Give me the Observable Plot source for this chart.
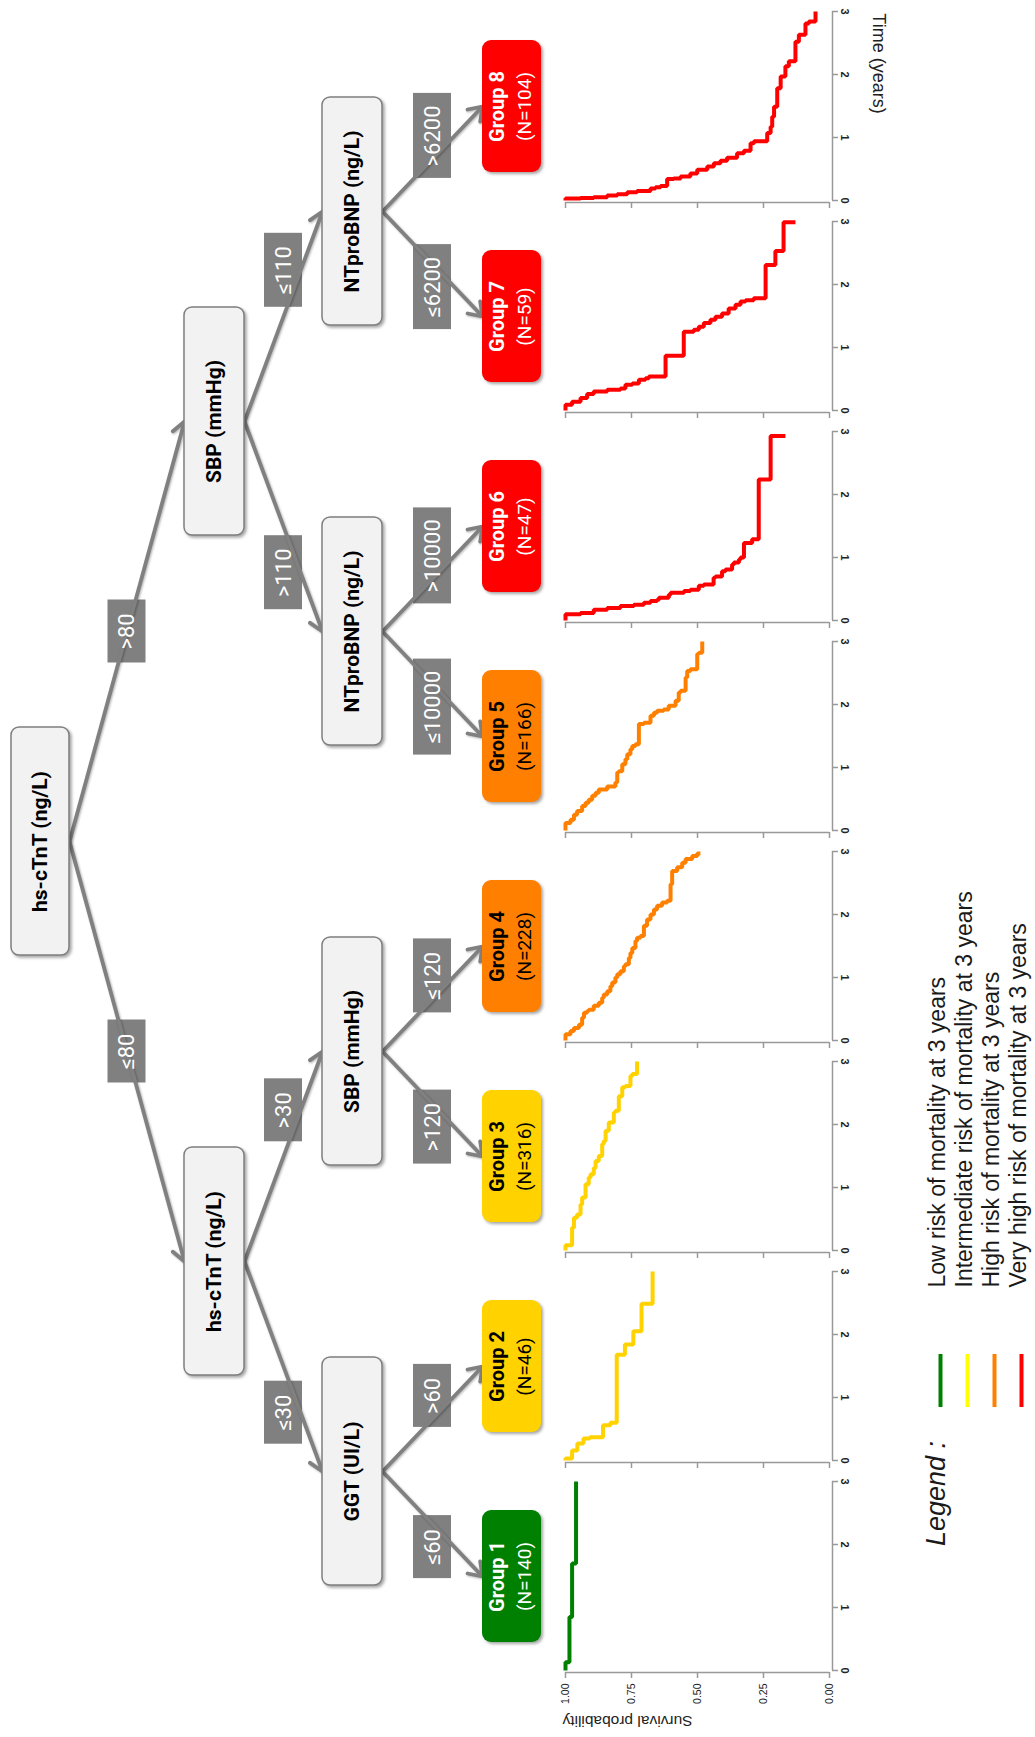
<!DOCTYPE html>
<html><head><meta charset="utf-8">
<script src="https://cdn.jsdelivr.net/npm/d3@7"></script>
<script src="https://cdn.jsdelivr.net/npm/@observablehq/plot@0.6"></script>
<style>
body{margin:0;background:#fff;}
#fig{position:relative;width:1035px;height:1737px;overflow:hidden;background:#fff;}
</style></head><body><div id="fig"></div>
<script>
// ---------- decision tree ----------
const nodeIds = ["A","B","C","D","E","F","G"];
const nodeLabels = ["hs-cTnT (ng/L)","hs-cTnT (ng/L)","SBP (mmHg)","GGT (UI/L)","SBP (mmHg)","NTproBNP (ng/L)","NTproBNP (ng/L)"];
const nodeParents = [null,"A","A","B","B","C","C"];
const nodeRules = [null,"≤80",">80","≤30",">30",">110","≤110"];

const groupNames = ["Group 1","Group 2","Group 3","Group 4","Group 5","Group 6","Group 7","Group 8"];
const groupN = [140,46,316,228,166,47,59,104];
const groupParents = ["D","D","E","E","F","F","G","G"];
const groupRules = ["≤60",">60",">120","≤120","≤10000",">10000","≤6200",">6200"];
const groupRisk = [0,1,1,2,2,3,3,3];

const riskLabels = ["Low risk of mortality at 3 years","Intermediate risk of mortality at 3 years","High risk of mortality at 3 years","Very high risk of mortality at 3 years"];
const riskColors = ["#008000","#ffd200","#ff8000","#ff0000"];
const legendColors = ["#008000","#ffff00","#ff8000","#ff0000"];
const groupTextColors = ["#ffffff","#000000","#000000","#ffffff"];

// ---------- Kaplan-Meier curves (time in years, survival probability) ----------
const g1Time = [0,0.13,0.85,1.70,3.00];
const g1Surv = [1,0.985,0.975,0.96,0.96];
const g2Time = [0,0.03,0.16,0.27,0.35,0.37,0.56,0.60,1.68,1.84,2.05,2.49,3.00];
const g2Surv = [1,0.975,0.955,0.932,0.908,0.858,0.83,0.806,0.775,0.743,0.712,0.67,0.67];
const g3Time = [0,0.085,0.36,0.52,0.57,0.73,0.84,1.05,1.16,1.21,1.31,1.42,1.50,1.69,1.74,1.90,2.03,2.19,2.22,2.45,2.59,2.61,2.77,2.80,3.00];
const g3Surv = [1,0.975,0.968,0.956,0.943,0.937,0.924,0.912,0.905,0.893,0.886,0.874,0.861,0.855,0.848,0.836,0.817,0.811,0.798,0.785,0.773,0.754,0.747,0.729,0.729];
const g4Time = [0,0.10,0.15,0.20,0.25,0.36,0.44,0.47,0.49,0.55,0.60,0.68,0.73,0.78,0.86,0.92,1.00,1.05,1.10,1.18,1.21,1.31,1.39,1.47,1.58,1.63,1.66,1.82,1.92,2.00,2.08,2.14,2.19,2.22,2.48,2.69,2.75,2.82,2.88,2.93,2.97];
const g4Surv = [1,0.981,0.968,0.949,0.937,0.930,0.918,0.912,0.893,0.874,0.861,0.855,0.842,0.830,0.823,0.811,0.804,0.792,0.779,0.773,0.760,0.754,0.747,0.735,0.729,0.716,0.703,0.691,0.678,0.665,0.653,0.634,0.615,0.602,0.596,0.577,0.558,0.545,0.520,0.501,0.489];
const g5Time = [0,0.12,0.17,0.25,0.31,0.39,0.44,0.49,0.55,0.60,0.65,0.70,0.76,0.92,0.94,1.05,1.13,1.21,1.29,1.34,1.37,1.69,1.71,1.82,1.87,1.90,1.92,1.98,2.06,2.19,2.22,2.43,2.53,2.56,2.80,2.82,3.00];
const g5Surv = [1,0.981,0.968,0.956,0.937,0.924,0.912,0.899,0.886,0.874,0.842,0.811,0.804,0.798,0.785,0.773,0.766,0.754,0.747,0.735,0.722,0.703,0.678,0.665,0.653,0.628,0.609,0.583,0.571,0.564,0.545,0.539,0.527,0.501,0.495,0.482,0.482];
const g6Time = [0,0.10,0.12,0.17,0.20,0.23,0.25,0.28,0.31,0.33,0.36,0.41,0.44,0.47,0.49,0.55,0.57,0.68,0.70,0.78,0.81,0.89,0.92,0.97,1.00,1.23,1.29,2.24,2.93];
const g6Surv = [1,0.943,0.893,0.842,0.792,0.741,0.703,0.678,0.653,0.646,0.609,0.602,0.551,0.527,0.495,0.476,0.439,0.432,0.407,0.394,0.369,0.362,0.343,0.337,0.324,0.293,0.268,0.223,0.167];
const g7Time = [0,0.09,0.14,0.20,0.26,0.30,0.33,0.35,0.41,0.43,0.49,0.51,0.54,0.87,1.25,1.28,1.33,1.39,1.44,1.49,1.54,1.62,1.68,1.73,1.75,1.78,2.31,2.53,2.99];
const g7Surv = [1,0.975,0.943,0.918,0.893,0.842,0.792,0.773,0.747,0.722,0.697,0.684,0.621,0.552,0.514,0.495,0.476,0.451,0.432,0.407,0.382,0.356,0.337,0.318,0.287,0.242,0.205,0.174,0.129];
const g8Time = [0,0.03,0.04,0.05,0.08,0.10,0.13,0.15,0.19,0.21,0.23,0.34,0.35,0.38,0.43,0.49,0.54,0.59,0.63,0.68,0.75,0.79,0.91,0.94,1.07,1.17,1.33,1.49,1.78,1.97,2.13,2.21,2.52,2.63,2.81,2.84,3.00];
const g8Surv = [1,0.943,0.893,0.842,0.804,0.766,0.729,0.678,0.659,0.640,0.615,0.590,0.564,0.527,0.501,0.463,0.438,0.413,0.388,0.350,0.324,0.299,0.286,0.236,0.223,0.217,0.210,0.198,0.185,0.167,0.154,0.129,0.116,0.091,0.078,0.053,0.053];

const survTicks = [1,0.75,0.5,0.25,0];
const survTickLabels = ["1.00","0.75","0.50","0.25","0.00"];
const timeTicks = [0,1,2,3];

const kmTimes = [g1Time,g2Time,g3Time,g4Time,g5Time,g6Time,g7Time,g8Time];
const kmSurv = [g1Surv,g2Surv,g3Surv,g4Surv,g5Surv,g6Surv,g7Surv,g8Surv];

// ---------- build tree structure ----------
const nodes = new Map();
nodeIds.forEach((id,i)=>nodes.set(id,{id,label:nodeLabels[i],parent:nodeParents[i],rule:nodeRules[i],leaf:false}));
groupNames.forEach((g,i)=>nodes.set(g,{id:g,label:g,parent:groupParents[i],rule:groupRules[i],leaf:true,n:groupN[i],risk:groupRisk[i],pos:i+1}));
const all = [...nodes.values()];
all.forEach(n=>n.children=all.filter(c=>c.parent===n.id));
function depthOf(n){return n.parent==null?0:1+depthOf(nodes.get(n.parent));}
function posOf(n){ if(n.leaf) return n.pos; n.pos=d3.mean(n.children,posOf); return n.pos; }
all.forEach(n=>n.depth=depthOf(n));
posOf(nodes.get("A"));
const splitNodes = all.filter(n=>!n.leaf);
const leaves = all.filter(n=>n.leaf);
const edges = all.filter(n=>n.parent!=null).map(c=>({parent:nodes.get(c.parent),child:c,rule:c.rule}));

// depth -> horizontal pixel position (piecewise: box edges of each tree level)
const HW = 0.2; // half box width in depth units
const levelX = d3.scaleLinear().domain([-0.2,0.2,0.8,1.2,1.8,2.2,2.8,3.2]).range([11,69,184,244,322,382,482,541]);
const cx = d => levelX(d.depth);
const left = d => levelX(d.depth-HW);
const right = d => levelX(d.depth+HW);
const midX = d => (levelX(d.parent.depth+HW)+levelX(d.child.depth-HW))/2;
const labY = d => { const f = d.parent.depth===0 ? 0.5 : 0.72; return d.parent.pos + f*(d.child.pos-d.parent.pos); };
const treeFont = "Roboto, 'DejaVu Sans', sans-serif";
const rFont = "'Liberation Sans', Arial, sans-serif";

const fig = document.getElementById("fig");
function place(svg,l,t){svg.style.position="absolute";svg.style.left=l+"px";svg.style.top=t+"px";fig.appendChild(svg);}
const transparent = {background:"transparent",overflow:"visible"};

const labelRects = d3.groups(edges,d=>d.rule.length).map(([L,arr])=>{
  const h = 30+11*L;
  return Plot.rect(arr,{x1:midX,x2:midX,y1:labY,y2:labY,insetLeft:-19,insetRight:-19,insetTop:-h/2,insetBottom:-h/2,fill:"#808080"});
});

const tree = Plot.plot({
  width:560,height:1737,margin:0,style:transparent,
  x:{type:"identity"},
  y:{domain:[1,8],range:[1576,106],axis:null},
  color:{type:"identity"},
  marks:[
    ...labelRects,
    Plot.arrow(edges,{x1:d=>levelX(d.parent.depth+HW),y1:d=>d.parent.pos,x2:d=>levelX(d.child.depth-HW),y2:d=>d.child.pos,stroke:"#808080",strokeWidth:3.8,headLength:6,headAngle:70}),
    Plot.text(edges,{x:midX,y:labY,text:d=>d.rule,rotate:-90,textAnchor:"middle",lineAnchor:"middle",fill:"#ffffff",fontSize:22,fontFamily:treeFont}),
    Plot.rect(splitNodes,{x1:left,x2:right,y1:d=>d.pos,y2:d=>d.pos,insetTop:-114,insetBottom:-114,rx:8,fill:"#f2f2f2",stroke:"#7f7f7f",strokeWidth:1.5}),
    Plot.text(splitNodes,{x:cx,y:d=>d.pos,text:d=>d.label,rotate:-90,textAnchor:"middle",lineAnchor:"middle",fontWeight:"bold",fontSize:21,fill:"#000000",fontFamily:treeFont}),
    Plot.rect(leaves,{x1:left,x2:right,y1:d=>d.pos,y2:d=>d.pos,insetTop:-66,insetBottom:-66,rx:9,fill:d=>riskColors[d.risk]}),
    Plot.text(leaves,{x:cx,y:d=>d.pos,text:d=>d.label,dx:-14,rotate:-90,textAnchor:"middle",lineAnchor:"middle",fontWeight:"bold",fontSize:20,fill:d=>groupTextColors[d.risk],fontFamily:treeFont}),
    Plot.text(leaves,{x:cx,y:d=>d.pos,text:d=>`(N=${d.n})`,dx:13,rotate:-90,textAnchor:"middle",lineAnchor:"middle",fontSize:19,fill:d=>groupTextColors[d.risk],fontFamily:treeFont})
  ]
});
place(tree,0,0);
d3.select(tree).selectAll('g[aria-label="rect"]').each(function(){ if(this.querySelectorAll("rect").length>=7) this.style.filter="drop-shadow(2px 2px 1.5px rgba(0,0,0,0.35))"; });
d3.select(tree).selectAll('g[aria-label="arrow"]').style("filter","drop-shadow(1px 1px 1px rgba(0,0,0,0.3))");

// ---------- KM panels ----------
const axisGrey = "#999";
for(let g=0; g<8; g++){
  const pts = kmTimes[g].map((t,i)=>({t,s:kmSurv[g][i]}));
  const marks = [
    Plot.ruleY([0],{x1:1,x2:0,dy:2,stroke:axisGrey,strokeWidth:1.5}),
    Plot.ruleX(survTicks,{x:d=>d,y1:0,y2:0,insetBottom:-6,dy:2,stroke:axisGrey,strokeWidth:1.5}),
    Plot.ruleX([0],{y1:0,y2:3,dx:3,stroke:axisGrey,strokeWidth:1.5}),
    Plot.ruleY(timeTicks,{y:d=>d,x1:0,x2:0,insetRight:-6,dx:3,stroke:axisGrey,strokeWidth:1.5}),
    Plot.text(timeTicks,{y:d=>d,frameAnchor:"right",dx:15,rotate:90,textAnchor:"middle",lineAnchor:"middle",text:d=>String(d),fontWeight:"bold",fontSize:11,fill:"#222",fontFamily:rFont}),
    Plot.line(pts,{x:"s",y:"t",curve:"step-before",stroke:riskColors[groupRisk[g]],strokeWidth:4,strokeLinejoin:"miter",strokeLinecap:"butt"})
  ];
  if(g===0){
    marks.push(Plot.text(survTicks,{x:d=>d,frameAnchor:"bottom",dy:13,rotate:-90,textAnchor:"end",lineAnchor:"middle",text:(d,i)=>survTickLabels[i],fontSize:10.5,fill:"#222",fontFamily:rFont}));
    marks.push(Plot.text(["Survival probability"],{frameAnchor:"bottom-left",dx:62,dy:50,rotate:180,textAnchor:"middle",lineAnchor:"middle",fontSize:15.5,fill:"#222",fontFamily:rFont}));
  }
  if(g===7){
    marks.push(Plot.text(["Time (years)"],{frameAnchor:"top-right",dx:49,dy:52,rotate:90,textAnchor:"middle",lineAnchor:"middle",fontSize:18,fill:"#222",fontFamily:rFont}));
  }
  const panel = Plot.plot({
    width:360,height:209,marginTop:10,marginBottom:10,marginLeft:25,marginRight:71,style:transparent,
    x:{domain:[1,0],axis:null},
    y:{domain:[0,3],axis:null},
    marks
  });
  place(panel,540,1670-210*g-199);
}

// ---------- legend ----------
const legend = Plot.plot({
  width:135,height:320,margin:0,style:transparent,
  x:{type:"point",domain:riskLabels,range:[37,118],padding:0,axis:null},
  color:{type:"identity"},
  marks:[
    Plot.ruleX(riskLabels,{x:d=>d,insetTop:104,insetBottom:163,dx:3,stroke:d=>legendColors[riskLabels.indexOf(d)],strokeWidth:4}),
    Plot.text(riskLabels,{x:d=>d,frameAnchor:"bottom",dy:-283,rotate:-90,textAnchor:"start",lineAnchor:"middle",text:d=>d,fontSize:23,fill:"#1a1a1a",fontFamily:rFont}),
    Plot.text(["Legend :"],{frameAnchor:"bottom-left",dx:36,dy:-77,rotate:-90,textAnchor:"middle",lineAnchor:"middle",fontStyle:"italic",fontSize:27,fill:"#1a1a1a",fontFamily:rFont})
  ]
});
place(legend,900,1250);
</script></body></html>
